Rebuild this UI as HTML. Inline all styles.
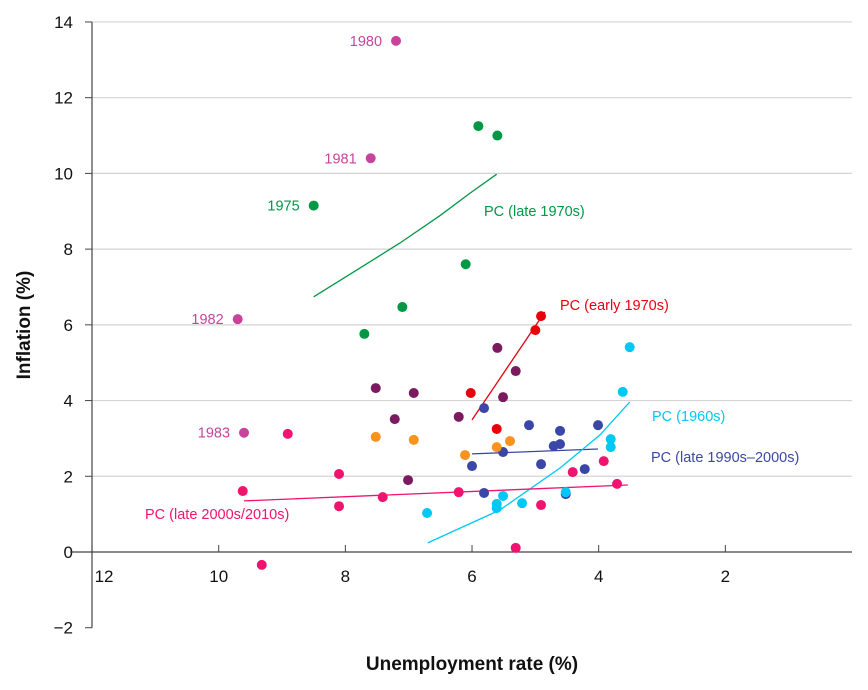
<!DOCTYPE html>
<html><head><meta charset="utf-8"><style>
body{margin:0;background:#fff;}
svg{display:block;font-family:"Liberation Sans",sans-serif;}
</style></head><body>
<svg id="chart" width="868" height="690" viewBox="0 0 868 690"></svg>
<script>
const yTicks=[-2,0,2,4,6,8,10,12,14];
const xTicks=[12,10,8,6,4,2];
const magentaU=[7.2,7.6,9.7,9.6];
const magentaI=[13.5,10.4,6.15,3.15];
const magentaLabels=["1980","1981","1982","1983"];
const greenU=[5.9,5.6,8.5,6.1,7.1,7.7];
const greenI=[11.25,11.0,9.15,7.6,6.47,5.76];
const greenLineU=[8.5,7.77,7.14,6.51,6.03,5.61];
const greenLineI=[6.74,7.5,8.16,8.88,9.48,9.98];
const redU=[4.91,5.0,6.02,5.61];
const redI=[6.23,5.86,4.2,3.25];
const redLineU=[6.0,4.85];
const redLineI=[3.49,6.34];
const purpleU=[5.6,7.52,6.92,5.31,5.51,7.22,6.21,7.01];
const purpleI=[5.39,4.33,4.2,4.78,4.09,3.51,3.57,1.9];
const blueU=[5.81,5.1,4.01,4.61,4.61,4.71,5.51,4.91,6.0,4.22,5.81,4.52];
const blueI=[3.8,3.35,3.35,3.2,2.85,2.8,2.64,2.32,2.27,2.19,1.56,1.53];
const blueLineU=[6.0,4.01];
const blueLineI=[2.59,2.72];
const orangeU=[7.52,6.92,6.11,5.61,5.4];
const orangeI=[3.04,2.96,2.56,2.77,2.93];
const cyanU=[3.51,3.62,3.81,3.81,6.71,5.61,5.61,5.51,5.21,4.52];
const cyanI=[5.41,4.23,2.98,2.77,1.03,1.27,1.16,1.48,1.29,1.58];
const cyanLineU=[6.7,5.56,4.61,3.98,3.51];
const cyanLineI=[0.24,1.11,2.22,3.09,3.96];
const pinkU=[8.91,8.1,9.62,8.1,7.41,6.21,4.41,3.92,3.71,4.91,5.31,9.32];
const pinkI=[3.12,2.06,1.61,1.21,1.45,1.58,2.11,2.4,1.8,1.24,0.11,-0.34];
const pinkLineU=[9.6,3.54];
const pinkLineI=[1.35,1.77];

const NS="http://www.w3.org/2000/svg";
const svg=document.getElementById('chart');
const X=u=>852-u*63.33;
const Y=v=>552-v*37.86;
function mk(tag,attrs,parent){const e=document.createElementNS(NS,tag);for(const k in attrs)e.setAttribute(k,attrs[k]);(parent||svg).appendChild(e);return e;}

yTicks.forEach(v=>{
  if(v>0){const g=mk('line',{x1:92,x2:852,y1:Y(v),y2:Y(v),stroke:'#d4d4d4','stroke-width':1.2});
  
  }
  const t=mk('line',{x1:85,x2:92,y1:Y(v),y2:Y(v),stroke:'#444'});
  
  
  const l=mk('text',{x:73,y:Y(v)+6,'text-anchor':'end','font-size':17,fill:'#111'});
  l.textContent=v<0?'\u2212'+(-v):String(v);
  
  
});
const ya=mk('line',{x1:92,x2:92,y1:Y(14),y2:Y(-2),stroke:'#444','stroke-width':1.2});


const xa=mk('line',{x1:70,x2:852,y1:Y(0),y2:Y(0),stroke:'#444','stroke-width':1.2});


xTicks.forEach(v=>{
  const t=mk('line',{x1:X(v),x2:X(v),y1:Y(0)-7,y2:Y(0),stroke:'#444'});
  
  
  const lx=v===12?X(v)+12:X(v);
  const l=mk('text',{x:lx,y:Y(0)+30,'text-anchor':'middle','font-size':17,fill:'#111'});
  l.textContent=String(v);
  
  
});
const yt=mk('text',{x:0,y:0,transform:'translate(30,325) rotate(-90)','text-anchor':'middle','font-size':19,'font-weight':'bold',fill:'#111'});
yt.textContent='Inflation (%)';


const xt=mk('text',{x:472,y:670,'text-anchor':'middle','font-size':19,'font-weight':'bold',fill:'#111'});
xt.textContent='Unemployment rate (%)';



function line(us,is,color,name){
  const d=us.map((u,i)=>(i?'L':'M')+X(u).toFixed(1)+','+Y(is[i]).toFixed(1)).join('');
  const p=mk('path',{d:d,fill:'none',stroke:color,'stroke-width':1.3});
  
  
}
function dots(us,is,color,name){
  us.forEach((u,i)=>{
    const c=mk('circle',{cx:X(u),cy:Y(is[i]),r:5,fill:color});
    
    
  });
}
function label(x,y,txt,color,name,anchor){
  const t=mk('text',{x:x,y:y,'font-size':14.5,fill:color,'text-anchor':anchor||'start'});
  t.textContent=txt;
  
  
}
const C={mag:'#c8439c',green:'#009845',red:'#e8000b',purple:'#7b1a5f',blue:'#3b47a6',orange:'#f7931e',cyan:'#00c8f5',pink:'#f0136f'};
line(greenLineU,greenLineI,C.green,'pc-late-1970s-line');
line(redLineU,redLineI,C.red,'pc-early-1970s-line');
line(blueLineU,blueLineI,C.blue,'pc-late-1990s-2000s-line');
line(cyanLineU,cyanLineI,C.cyan,'pc-1960s-line');
line(pinkLineU,pinkLineI,C.pink,'pc-late-2000s-2010s-line');
dots(magentaU,magentaI,C.mag,'point-early-1980s');
dots(greenU,greenI,C.green,'point-late-1970s');
dots(redU,redI,C.red,'point-early-1970s');
dots(purpleU,purpleI,C.purple,'point-1980s-1990s');
dots(blueU,blueI,C.blue,'point-late-1990s-2000s');
dots(orangeU,orangeI,C.orange,'point-orange');
dots(cyanU,cyanI,C.cyan,'point-1960s');
dots(pinkU,pinkI,C.pink,'point-late-2000s-2010s');
magentaLabels.forEach((s,i)=>{
  const t=mk('text',{x:X(magentaU[i])-14,y:Y(magentaI[i])+5,'font-size':14.5,fill:C.mag,'text-anchor':'end'});
  t.textContent=s;
  
  
});
label(X(8.5)-14,Y(9.15)+5,'1975',C.green,'year-label-1975','end');
label(484,216,'PC (late 1970s)',C.green,'pc-late-1970s-label');
label(560,310,'PC (early 1970s)',C.red,'pc-early-1970s-label');
label(652,421,'PC (1960s)',C.cyan,'pc-1960s-label');
label(651,462,'PC (late 1990s\u20132000s)',C.blue,'pc-late-1990s-2000s-label');
label(145,519,'PC (late 2000s/2010s)',C.pink,'pc-late-2000s-2010s-label');
</script>
</body></html>
